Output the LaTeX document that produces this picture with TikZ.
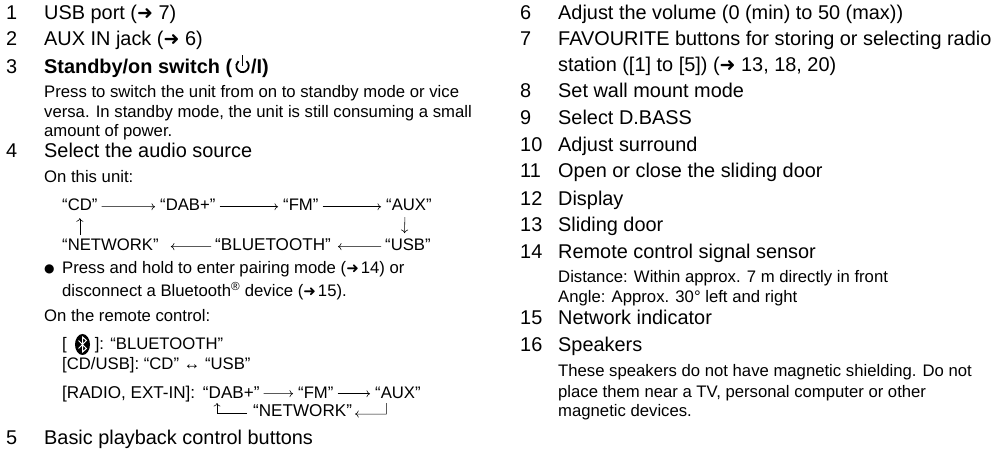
\documentclass[tikz,border=0pt]{standalone}
\usepackage{fontspec}
\usetikzlibrary{arrows.meta}
\setmainfont{Liberation Sans}
\newfontfamily\symfont{DejaVu Sans}
\newcommand{\pgref}[1][15]{{\symfont\fontsize{#1}{#1}\selectfont ➜}}
\tikzset{
  headtext/.style={anchor=base west,inner sep=0pt,font=\fontsize{19.9}{20}\selectfont},
  subtext/.style={anchor=base west,inner sep=0pt,font=\fontsize{16.7}{17}\selectfont},
  flowtext/.style={subtext,text depth=3pt},
  wideflow/.style={flowtext,font=\fontsize{17.1}{17}\selectfont},
  flowline/.style={-{To[length=3.5pt,width=7pt]},line width=0.55pt,shorten <=4pt,shorten >=5pt}
}
\begin{document}
\begin{tikzpicture}[x=1pt,y=-1pt]
            \useasboundingbox (0,0) rectangle (1005,449);
            % left column
            \node[headtext] (n1) at (6,20) {1};
            \node[headtext] (t1) at (44,20) {USB port (\pgref[19]{} 7)};
            \node[headtext] (n2) at (6,46) {2};
            \node[headtext] (t2) at (44,46) {AUX IN jack (\pgref[19]{} 6)};
            \node[headtext] (n3) at (6,74) {3};
            \node[headtext] (t3) at (44,74) {\textbf{Standby/on switch (\hspace{19pt}/I)}};
            \draw [line width=1.8pt] (246.5,61.2) arc (-50:230:6.2);
            \draw [line width=1.8pt] (242.5,55.5) -- (242.5,66);
            \node[subtext] (t3a) at (44,98) {Press to switch the unit from on to standby mode or vice};
            \node[subtext] (t3b) at (44,118) {versa. In standby mode, the unit is still consuming a small};
            \node[subtext] (t3c) at (44,137) {amount of power.};
            \node[headtext] (n4) at (6,158) {4};
            \node[headtext] (t4) at (44,158) {Select the audio source};
            \node[subtext] (t4a) at (44,183) {On this unit:};
            \node[flowtext] (cd) at (62,211) {“CD”};
            \node[flowtext] (dab) at (160,211) {“DAB+”};
            \node[flowtext] (fm) at (283,211) {“FM”};
            \node[flowtext] (aux) at (386,211) {“AUX”};
            \node[flowtext] (net) at (62,251) {“NETWORK”};
            \node[wideflow] (blue) at (215,251) {“BLUETOOTH”};
            \node[flowtext] (usb) at (385,251) {“USB”};
            \draw [flowline] (cd) -- (dab);
            \draw [flowline] (dab) -- (fm);
            \draw [flowline] (fm) -- (aux);
            \draw [flowline,shorten >=7pt] (usb) -- (blue);
            \draw [flowline,shorten >=12pt] (blue) -- (net);
            \draw [flowline,shorten <=3pt,shorten >=6pt] ([xshift=-4pt]aux.south) -- ([xshift=-3.5pt]usb.north);
            \draw [flowline,shorten <=4pt,shorten >=4pt] (net.north -| cd.south) -- (cd.south);
            \node[subtext,font=\symfont\fontsize{12}{12}\selectfont] (b1) at (44,273) {●};
            \node[subtext] (b1a) at (62,274) {Press and hold to enter pairing mode (\pgref\hspace{2pt}14) or};
            \node[subtext] (b1b) at (62,297) {disconnect a Bluetooth\textsuperscript{®} device (\pgref\hspace{2pt}15).};
            \node[subtext] (t4b) at (44,322) {On the remote control:};
            \node[subtext] (r1) at (62,350) {[\hspace{28pt}]: “BLUETOOTH”};
            \node[subtext] (r2) at (62,370) {[CD/USB]: “CD” ↔ “USB”};
            \node[wideflow] (r3) at (62,398) {[RADIO, EXT-IN]:\hspace{3pt} “DAB+”};
            \node[flowtext] (fm2) at (298,398) {“FM”};
            \node[flowtext] (aux2) at (375,398) {“AUX”};
            \node[wideflow] (net2) at (253,417) {“NETWORK”};
            \draw [flowline] (r3) -- (fm2);
            \draw [flowline] (fm2) -- (aux2);
            \draw [flowline,shorten <=0pt,shorten >=3pt] (aux2.south) ++(-11.5,2) -- ++(0,11) -- (net2.east |- 0,414);
            \draw [flowline,shorten <=6pt,shorten >=0pt] (net2.west |- 0,413) -- (217,413) -- (217,403);
            \node[headtext] (n5) at (6,444) {5};
            \node[headtext] (t5) at (44,444) {Basic playback control buttons};
            % right column
            \node[headtext] (n6) at (520,20) {6};
            \node[headtext] (t6) at (558,20) {Adjust the volume (0 (min) to 50 (max))};
            \node[headtext] (n7) at (520,46) {7};
            \node[headtext] (t7) at (558,46) {FAVOURITE buttons for storing or selecting radio};
            \node[headtext] (t7a) at (558,72) {station ([1] to [5]) (\pgref[19]{} 13, 18, 20)};
            \node[headtext] (n8) at (520,98) {8};
            \node[headtext] (t8) at (558,98) {Set wall mount mode};
            \node[headtext] (n9) at (520,125) {9};
            \node[headtext] (t9) at (558,125) {Select D.BASS};
            \node[headtext] (n10) at (520,152) {10};
            \node[headtext] (t10) at (558,152) {Adjust surround};
            \node[headtext] (n11) at (520,178) {11};
            \node[headtext] (t11) at (558,178) {Open or close the sliding door};
            \node[headtext] (n12) at (520,206) {12};
            \node[headtext] (t12) at (558,206) {Display};
            \node[headtext] (n13) at (520,232) {13};
            \node[headtext] (t13) at (558,232) {Sliding door};
            \node[headtext] (n14) at (520,259) {14};
            \node[headtext] (t14) at (558,259) {Remote control signal sensor};
            \node[subtext] (t14a) at (558,283) {Distance: Within approx. 7 m directly in front};
            \node[subtext] (t14b) at (558,303) {Angle: Approx. 30° left and right};
            \node[headtext] (n15) at (520,325) {15};
            \node[headtext] (t15) at (558,325) {Network indicator};
            \node[headtext] (n16) at (520,352) {16};
            \node[headtext] (t16) at (558,352) {Speakers};
            \node[subtext] (t16a) at (558,377) {These speakers do not have magnetic shielding. Do not};
            \node[subtext] (t16b) at (558,397) {place them near a TV, personal computer or other};
            \node[subtext] (t16c) at (558,417) {magnetic devices.};
            % bluetooth mark
            \fill (82.5,344.5) ellipse (7.5 and 10.5);
            \draw [white,line width=1pt] (78.5,340.5) -- (86.5,348.5) -- (82.5,352) -- (82.5,337) -- (86.5,340.5) -- (78.5,348.5);
        \end{tikzpicture}
\end{document}
